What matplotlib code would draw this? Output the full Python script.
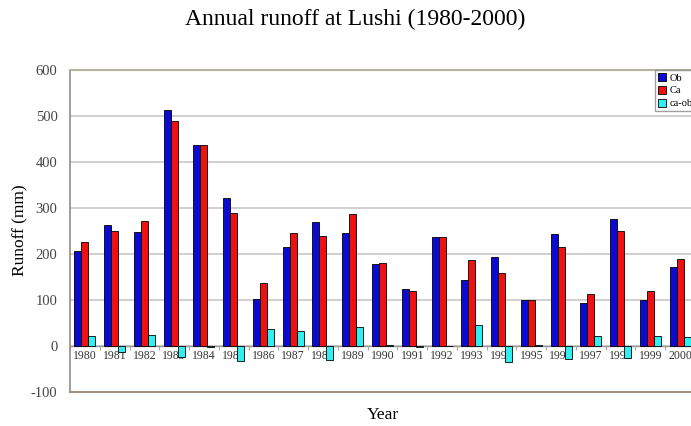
import numpy as np
from matplotlib import pyplot as plt

years = ['1980', '1981', '1982', '1983', '1984', '1985', '1986', '1987',
         '1988', '1989', '1990', '1991', '1992', '1993', '1994', '1995',
         '1996', '1997', '1998', '1999', '2000']
ob = [206, 264, 248, 513, 438, 322, 102, 216, 270, 245, 178,
      124, 238, 143, 193, 99, 244, 93, 276, 99, 171]
ca = [226, 251, 272, 490, 436, 289, 138, 246, 240, 287, 181,
      119, 236, 187, 159, 101, 216, 114, 251, 120, 189]
ca_ob = [21, -13, 25, -23, -2, -32, 36, 32, -30, 42, 3,
         -3, -1, 46, -34, 2, -28, 22, -25, 22, 19]

plt.rcParams['font.family'] = 'Liberation Serif'
plt.rcParams['axes.unicode_minus'] = False

fig = plt.figure(figsize=(6.91, 4.26), dpi=100)
W, H = 691, 426
# plot area runs past the right edge of the picture
ax = fig.add_axes([70 / W, 1 - 392 / H, 625 / W, 322 / H])

x = np.arange(len(years))
w = 0.235
ax.bar(x - w, ob, w, color='#0a0ad2', edgecolor='black', linewidth=0.6,
       label='Ob', zorder=3)
ax.bar(x, ca, w, color='#ee1111', edgecolor='black', linewidth=0.6,
       label='Ca', zorder=3)
ax.bar(x + w, ca_ob, w, color='#33eeee', edgecolor='black', linewidth=0.6,
       label='ca-ob', zorder=3)

ax.set_xlim(-0.5, len(years) - 0.5)
ax.set_ylim(-100, 600)
ax.set_yticks(range(-100, 601, 100))
ax.yaxis.grid(True, color='#c8c8c8', linewidth=1.2, zorder=0)
ax.set_axisbelow(True)

# category axis sits on the zero line
ax.spines['bottom'].set_position(('data', 0))
ax.spines['bottom'].set_color('#999999')
ax.spines['bottom'].set_linewidth(1.0)
ax.axhline(-100, color='#a08f80', linewidth=1.5, clip_on=False, zorder=4)
ax.spines['top'].set_color('#b4b4a0')
ax.spines['top'].set_linewidth(1.5)
ax.spines['left'].set_color('#8c8c8c')
ax.spines['left'].set_linewidth(1.2)
ax.spines['right'].set_visible(False)

ax.set_xticks(x)
ax.set_xticklabels(years, fontsize=8.5, color='#333333')
ax.set_xticks(np.arange(-0.5, len(years), 1), minor=True)
ax.tick_params(axis='x', which='major', length=0, pad=3)
ax.tick_params(axis='x', which='minor', length=3, color='#999999')
ax.tick_params(axis='y', length=0, labelsize=10.5, labelcolor='#444444',
               pad=9)

fig.text(20 / W, 1 - 230 / H, 'Runoff (mm)', fontsize=12.5, rotation=90,
         ha='center', va='center')
fig.text(383 / W, 1 - 415 / H, 'Year', fontsize=12.5, ha='center',
         va='center')
fig.text(355 / W, 1 - 19 / H, 'Annual runoff at Lushi (1980-2000)',
         fontsize=17, ha='center', va='center')

ax.legend(loc='upper left', bbox_to_anchor=(585 / 625, 1.0), fontsize=7.5,
          frameon=True, fancybox=False, edgecolor='#888888',
          handlelength=0.8, handleheight=0.8, handletextpad=0.3,
          borderpad=0.3, labelspacing=0.3, borderaxespad=0)

plt.savefig('out.png', dpi=100)
